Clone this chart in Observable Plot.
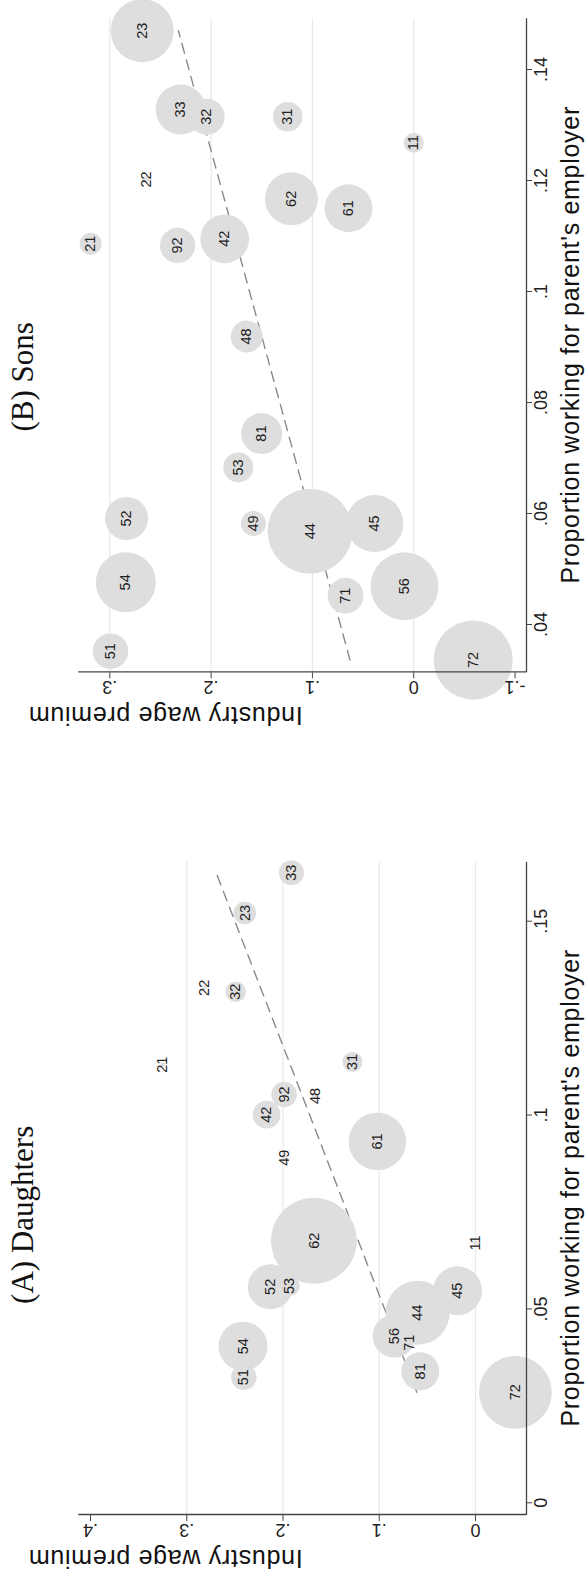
<!DOCTYPE html>
<html><head><meta charset="utf-8">
<script src="https://cdn.jsdelivr.net/npm/d3@7"></script>
<script src="https://cdn.jsdelivr.net/npm/@observablehq/plot@0.6"></script>
<style>
html,body{margin:0;padding:0;background:#fff;width:585px;height:1581px;overflow:hidden}
#fig{position:absolute;left:0;top:0;width:1581px;height:585px;transform-origin:0 0;transform:translate(0px,1581px) rotate(-90deg);background:#fff}
.panel{position:absolute;top:0}
</style></head><body><div id="fig"><div id="pa" class="panel" style="left:0px"></div><div id="pb" class="panel" style="left:790px"></div></div>
<script>
// ---- Panel A: Daughters ----
const codesA   = ["33","23","22","32","21","31","92","48","42","61","49","62","11","52","53","45","44","56","71","54","51","81","72"];
const shareA   = [.1625,.1521,.1328,.1318,.1130,.1137,.1053,.1049,.1001,.0932,.0890,.0676,.0670,.0557,.0559,.0547,.0490,.0430,.0413,.0404,.0324,.0339,.0285];
const premiumA = [.1912,.2396,.2822,.2492,.3249,.1279,.1989,.1667,.2171,.1019,.1989,.1679,.0000,.2132,.1930,.0186,.0601,.0845,.0690,.2416,.2407,.0574,-.0415];
const weightA  = [8.5,6.9,0.3,5.7,0.3,5.4,8.8,0.5,10.4,44.7,0.3,100,0.3,27.4,5.4,32.1,55.4,25,0.5,32.5,8.8,19.5,71.5];
const fitXA = [.0285,.1625];
const fitYA = [.0610,.2695];
const xTicksA = [0,.05,.1,.15];
const yTicksA = [0,.1,.2,.3,.4];
const gridA = [0,.1,.2,.3];
const xDomainA = [-0.00302,0.16547];
const yDomainA = [-0.053,0.4122];

// ---- Panel B: Sons ----
const codesB   = ["23","33","32","31","11","22","62","61","42","92","21","48","81","53","52","49","44","45","54","71","56","51","72"];
const shareB   = [.1470,.1328,.1315,.1315,.1268,.1202,.1167,.1150,.1095,.1083,.1086,.0919,.0744,.0683,.0591,.0582,.0568,.0582,.0476,.0452,.0469,.0352,.0336];
const premiumB = [.2680,.2301,.2043,.1244,.0000,.2644,.1207,.0644,.1866,.2331,.3189,.1649,.1501,.1731,.2835,.1582,.1023,.0385,.2842,.0673,.0091,.2993,-.0587];
const weightB  = [53.7,33.8,17.5,11.8,5.4,0.5,38,30.9,32.1,16.8,6.5,13.8,22.7,12.2,25.2,8.5,97.7,43.9,48.7,17.3,62.2,17,84.8];
const fitXB = [.0336,.1470];
const fitYB = [.0629,.2323];
const xTicksB = [.04,.06,.08,.1,.12,.14];
const yTicksB = [-.1,0,.1,.2,.3];
const gridB = [0,.1,.2,.3];
const xDomainB = [0.03148,0.14932];
const yDomainB = [-0.1113,0.3306];

const xTitle = "Proportion working for parent's employer";
const yTitle = "Industry wage premium";
const titleA = "(A) Daughters";
const titleB = "(B) Sons";

function fmt(v){
  if (Math.abs(v) < 1e-9) return "0";
  const s = String(+v.toFixed(3));
  return s.replace(/^(-?)0\./, "$1.");
}

function panel(o){
  const data = o.codes.map((c,i)=>({code:c, x:o.xs[i], y:o.ys[i], w:o.ws[i]}));
  const fit = o.fitX.map((x,i)=>({x, y:o.fitY[i]}));
  const svg = Plot.plot({
    width:o.width, height:585,
    marginLeft:o.mL, marginRight:o.mR, marginTop:78.3, marginBottom:59,
    style:{fontFamily:"'Liberation Sans', Arial, Helvetica, sans-serif", background:"white", color:"#222", overflow:"visible"},
    x:{domain:o.xDomain},
    y:{domain:o.yDomain},
    r:{type:"sqrt", domain:[0,100], range:[0,43]},
    marks:[
      Plot.ruleY(o.grid, {stroke:"#e3eaeb", strokeWidth:1.2}),
      Plot.line(fit, {x:"x", y:"y", stroke:"#8a8a8a", strokeWidth:1.4, strokeDasharray:"10,7"}),
      Plot.dot(data, {x:"x", y:"y", r:"w", fill:"#dedede", stroke:"none"}),
      Plot.text(data, {x:"x", y:"y", text:"code", fontSize:14.5, fill:"#222"}),
      Plot.ruleY([o.yDomain[0]], {stroke:"#444", strokeWidth:1.3}),
      Plot.ruleX([o.xDomain[0]], {stroke:"#444", strokeWidth:1.3}),
      Plot.axisX({ticks:o.xTicks, tickFormat:fmt, tickSize:6, tickPadding:2, fontSize:18, label:null, stroke:"#444"}),
      Plot.axisY({ticks:o.yTicks, tickFormat:fmt, tickSize:6, tickRotate:-90, tickPadding:3, fontSize:18, label:null, stroke:"#444"}),
      Plot.text([xTitle], {frameAnchor:"bottom", dy:44, fontSize:25, lineAnchor:"middle", fill:"#111"}),
      Plot.text([yTitle], {frameAnchor:"left", rotate:-90, dx:-43, fontSize:25, lineAnchor:"middle", fill:"#111"}),
      Plot.text([o.title], {frameAnchor:"top", dx:o.dxTitle, dy:-56, fontSize:31, fontFamily:"'Liberation Serif', 'Times New Roman', serif", lineAnchor:"middle", fill:"#111"})
    ]
  });
  d3.select(svg).selectAll("text").filter(function(){ return this.textContent === xTitle || this.textContent === yTitle; })
    .style("letter-spacing","0.7px");
  return svg;
}

document.getElementById("pa").appendChild(panel({
  codes:codesA, xs:shareA, ys:premiumA, ws:weightA, fitX:fitXA, fitY:fitYA,
  xTicks:xTicksA, yTicks:yTicksA, grid:gridA, xDomain:xDomainA, yDomain:yDomainA,
  title:titleA, width:790, mL:66, mR:70.7, dxTitle:-27
}));
document.getElementById("pb").appendChild(panel({
  codes:codesB, xs:shareB, ys:premiumB, ws:weightB, fitX:fitXB, fitY:fitYB,
  xTicks:xTicksB, yTicks:yTicksB, grid:gridB, xDomain:xDomainB, yDomain:yDomainB,
  title:titleB, width:791, mL:118.7, mR:18.3, dxTitle:-32
}));
</script></body></html>
